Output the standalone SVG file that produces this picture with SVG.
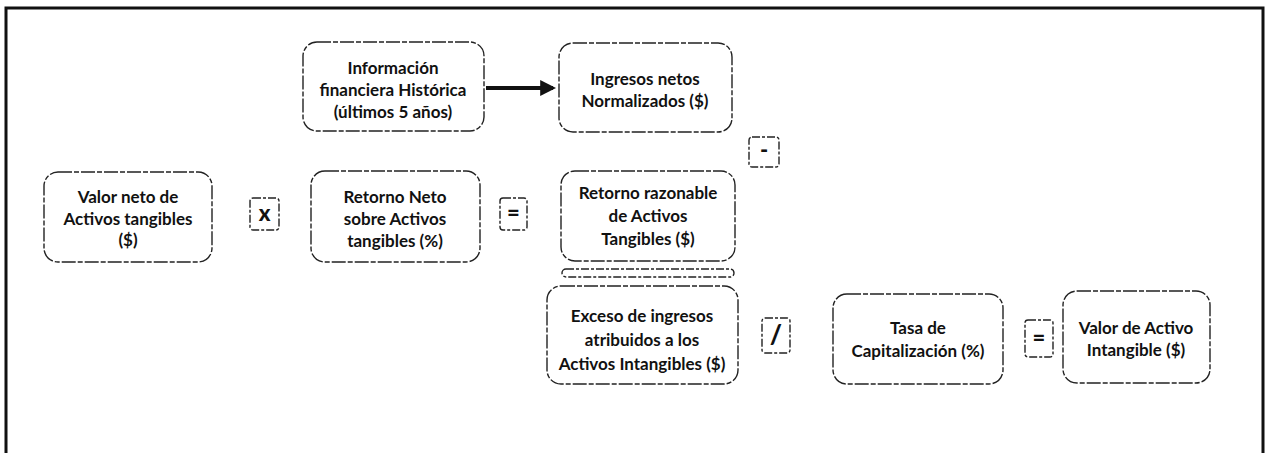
<svg xmlns="http://www.w3.org/2000/svg" width="1268" height="453" viewBox="0 0 1268 453">
<style>
.box{fill:#fff;stroke:#222;stroke-width:1.4;stroke-dasharray:14 2 5 2}
.op{fill:#fff;stroke:#222;stroke-width:1.4;stroke-dasharray:8 2 3 2}
.t{font-family:Lato,"Liberation Sans",sans-serif;font-weight:bold;font-size:17px;fill:#111;text-anchor:middle}
.o{font-family:Lato,"Liberation Sans",sans-serif;font-weight:900;font-size:22px;fill:#111;text-anchor:middle}
</style>
<defs>
<marker id="ah" markerWidth="4" markerHeight="4" refX="3.2" refY="2" orient="auto" markerUnits="strokeWidth">
<path d="M0,0 L4,2 L0,4 z" fill="#111"/>
</marker>
</defs>
<rect width="1268" height="453" fill="#fff"/>
<path d="M6,453 L6,8 L1263,8 L1263,453" fill="none" stroke="#111" stroke-width="3"/>
<g id="connectors">
<line x1="486" y1="88" x2="553" y2="88" stroke="#111" stroke-width="4" marker-end="url(#ah)"/>
</g>
<g id="n-info">
<rect class="box" x="303" y="42" width="181" height="89" rx="14"/>
<text class="t" x="393" y="74">Información</text>
<text class="t" x="393" y="96">financiera Histórica</text>
<text class="t" x="393" y="118">(últimos 5 años)</text>
</g>
<g id="n-ingresos">
<rect class="box" x="559" y="43" width="173" height="89" rx="14"/>
<text class="t" x="645" y="85">Ingresos netos</text>
<text class="t" x="645" y="107">Normalizados ($)</text>
</g>
<g id="op-minus">
<rect class="op" x="749" y="137" width="30" height="30" rx="3"/>
<text class="o" x="764" y="158">-</text>
</g>
<g id="n-valorneto">
<rect class="box" x="44" y="172" width="168" height="90" rx="14"/>
<text class="t" x="128" y="203">Valor neto de</text>
<text class="t" x="128" y="225">Activos tangibles</text>
<text class="t" x="128" y="246">($)</text>
</g>
<g id="op-x">
<rect class="op" x="250" y="198" width="29" height="32" rx="3"/>
<text class="o" x="264.5" y="221">x</text>
</g>
<g id="n-retorno">
<rect class="box" x="311" y="171" width="169" height="91" rx="14"/>
<text class="t" x="395" y="203">Retorno Neto</text>
<text class="t" x="395" y="225">sobre Activos</text>
<text class="t" x="395" y="247">tangibles (%)</text>
</g>
<g id="op-eq1">
<rect class="op" x="500" y="198" width="27" height="32" rx="3"/>
<text class="o" x="513.5" y="221">=</text>
</g>
<g id="n-razonable">
<rect class="box" x="561" y="171" width="174" height="90" rx="14"/>
<text class="t" x="648" y="199">Retorno razonable</text>
<text class="t" x="648" y="222">de Activos</text>
<text class="t" x="648" y="245">Tangibles ($)</text>
</g>
<g id="op-bar">
<rect class="op" x="562" y="269" width="172" height="8" rx="4"/>
</g>
<g id="n-exceso">
<rect class="box" x="547" y="286" width="191" height="98" rx="14"/>
<text class="t" x="642" y="322">Exceso de ingresos</text>
<text class="t" x="642" y="346">atribuidos a los</text>
<text class="t" x="642" y="370">Activos Intangibles ($)</text>
</g>
<g id="op-div">
<rect class="op" x="762" y="318" width="28" height="35" rx="3"/>
<text class="o" x="776" y="344" style="font-size:26px">/</text>
</g>
<g id="n-tasa">
<rect class="box" x="833" y="294" width="170" height="90" rx="14"/>
<text class="t" x="918" y="334">Tasa de</text>
<text class="t" x="918" y="357">Capitalización (%)</text>
</g>
<g id="op-eq2">
<rect class="op" x="1025" y="320" width="28" height="37" rx="3"/>
<text class="o" x="1039" y="346">=</text>
</g>
<g id="n-valoractivo">
<rect class="box" x="1063" y="291" width="147" height="92" rx="14"/>
<text class="t" x="1136" y="334">Valor de Activo</text>
<text class="t" x="1136" y="356">Intangible ($)</text>
</g>
</svg>
